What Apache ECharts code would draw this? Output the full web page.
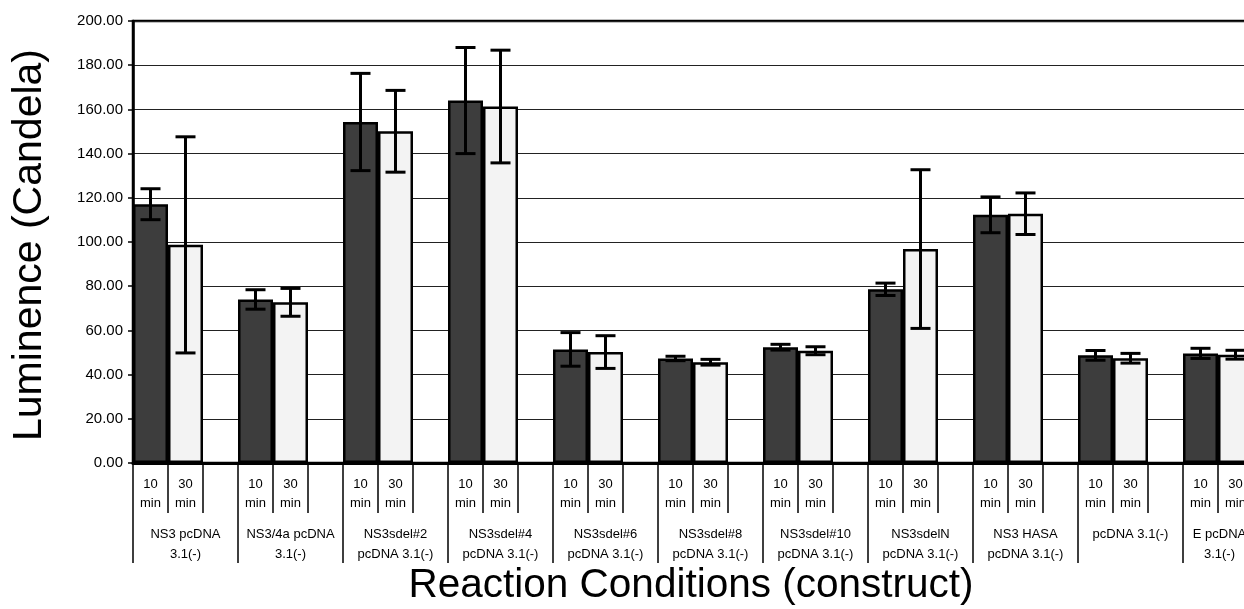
<!DOCTYPE html>
<html>
<head>
<meta charset="utf-8">
<script src="https://cdn.jsdelivr.net/npm/echarts@6/dist/echarts.min.js"></script>
<style>
html,body{margin:0;padding:0;background:#fff;overflow:hidden;}
#chart{width:1320px;height:609px;}
</style>
</head>
<body>
<div id="chart"></div>
<script>
// ---- data ----
const groups = [
  "NS3 pcDNA\n3.1(-)",
  "NS3/4a pcDNA\n3.1(-)",
  "NS3sdel#2\npcDNA 3.1(-)",
  "NS3sdel#4\npcDNA 3.1(-)",
  "NS3sdel#6\npcDNA 3.1(-)",
  "NS3sdel#8\npcDNA 3.1(-)",
  "NS3sdel#10\npcDNA 3.1(-)",
  "NS3sdelN\npcDNA 3.1(-)",
  "NS3 HASA\npcDNA 3.1(-)",
  "pcDNA 3.1(-)",
  "E pcDNA\n3.1(-)"
];
const slotLabels = ["10\nmin", "30\nmin", ""];
const min10 = [117.1, 74.0, 154.3, 164.0, 51.4, 47.3, 52.4, 78.6, 112.3, 48.7, 49.6];
const min30 = [98.7, 72.7, 150.1, 161.3, 50.2, 45.6, 50.8, 96.8, 112.8, 47.4, 49.0];
const err10 = [7.0, 4.4, 22.0, 24.0, 7.6, 1.0, 1.3, 2.8, 8.1, 2.2, 2.3];
const err30 = [48.9, 6.3, 18.5, 25.5, 7.4, 1.3, 1.8, 35.9, 9.4, 2.2, 2.0];
const yMin = 0, yMax = 200, yStep = 20;
const yTitle = "Luminence (Candela)";
const xTitle = "Reaction Conditions (construct)";

// ---- build library structures ----
const slotCats = [];
groups.forEach(() => slotCats.push(...slotLabels));
const s10 = slotCats.map((_, i) => (i % 3 === 0 ? min10[i / 3] : '-'));
const s30 = slotCats.map((_, i) => (i % 3 === 1 ? min30[(i - 1) / 3] : '-'));
const errData = [];
groups.forEach((_, g) => {
  errData.push([3 * g, min10[g] - err10[g], min10[g] + err10[g]]);
  errData.push([3 * g + 1, min30[g] - err30[g], min30[g] + err30[g]]);
});
const groupCats = groups.map((g, i) =>
  i === groups.length - 1 ? { value: g, textStyle: { padding: [0, 32, 0, 0] } } : g
);

const FONT = "'Liberation Sans', Arial, sans-serif";
const chart = echarts.init(document.getElementById('chart'), null, { renderer: 'canvas' });
chart.setOption({
  animation: false,
  backgroundColor: '#fff',
  grid: {
    left: 133, top: 21, bottom: 146, width: 1155,
    show: true, borderColor: '#000', borderWidth: 2.5, backgroundColor: 'transparent'
  },
  xAxis: [
    {
      type: 'category', data: slotCats, position: 'bottom', boundaryGap: true,
      axisLine: { show: true, lineStyle: { color: '#000', width: 3 } },
      axisTick: { show: true, interval: 0, length: 50, lineStyle: { color: '#000', width: 1.5 } },
      axisLabel: { interval: 0, fontSize: 13, lineHeight: 19, margin: 12, color: '#000', fontFamily: FONT },
      splitLine: { show: false }
    },
    {
      type: 'category', data: groupCats, position: 'bottom', offset: 0, boundaryGap: true,
      axisLine: { show: false },
      axisTick: { show: true, interval: 0, length: 100, lineStyle: { color: '#000', width: 1.5 } },
      axisLabel: { interval: 0, fontSize: 13, lineHeight: 20, margin: 61, color: '#000', fontFamily: FONT },
      splitLine: { show: false }
    }
  ],
  yAxis: {
    type: 'value', min: yMin, max: yMax, interval: yStep,
    axisLine: { show: true, lineStyle: { color: '#000', width: 2.5 } },
    axisTick: { show: true, length: 5, lineStyle: { color: '#000', width: 1.5 } },
    axisLabel: { fontSize: 15, margin: 10, color: '#000', fontFamily: FONT,
      formatter: v => v.toFixed(2) },
    splitLine: { show: true, lineStyle: { color: '#222', width: 1.2 } }
  },
  series: [
    {
      name: '10 min', type: 'bar', xAxisIndex: 0, data: s10,
      barGap: '-100%', barCategoryGap: '0%',
      itemStyle: { color: '#3d3d3d', borderColor: '#000', borderWidth: 2.5 }
    },
    {
      name: '30 min', type: 'bar', xAxisIndex: 0, data: s30,
      barGap: '-100%', barCategoryGap: '0%',
      itemStyle: { color: '#f3f3f3', borderColor: '#000', borderWidth: 2.5 }
    },
    {
      name: 'error', type: 'custom', xAxisIndex: 0, data: errData, z: 10,
      encode: { x: 0, y: [1, 2] },
      renderItem: function (params, api) {
        const x = api.value(0);
        const lo = api.coord([x, api.value(1)]);
        const hi = api.coord([x, api.value(2)]);
        const cap = 10;
        const st = { stroke: '#000', lineWidth: 3 };
        return {
          type: 'group', children: [
            { type: 'line', shape: { x1: lo[0], y1: lo[1], x2: hi[0], y2: hi[1] }, style: st },
            { type: 'line', shape: { x1: lo[0] - cap, y1: lo[1], x2: lo[0] + cap, y2: lo[1] }, style: st },
            { type: 'line', shape: { x1: hi[0] - cap, y1: hi[1], x2: hi[0] + cap, y2: hi[1] }, style: st }
          ]
        };
      }
    }
  ],
  graphic: [
    { type: 'text', x: 30, y: 245, rotation: Math.PI / 2,
      style: { text: yTitle, fontSize: 41, fontFamily: FONT, fill: '#000', align: 'center', verticalAlign: 'middle' } },
    { type: 'text', x: 691, y: 586,
      style: { text: xTitle, fontSize: 40.5, fontFamily: FONT, fill: '#000', align: 'center', verticalAlign: 'middle' } }
  ]
});
</script>
</body>
</html>
